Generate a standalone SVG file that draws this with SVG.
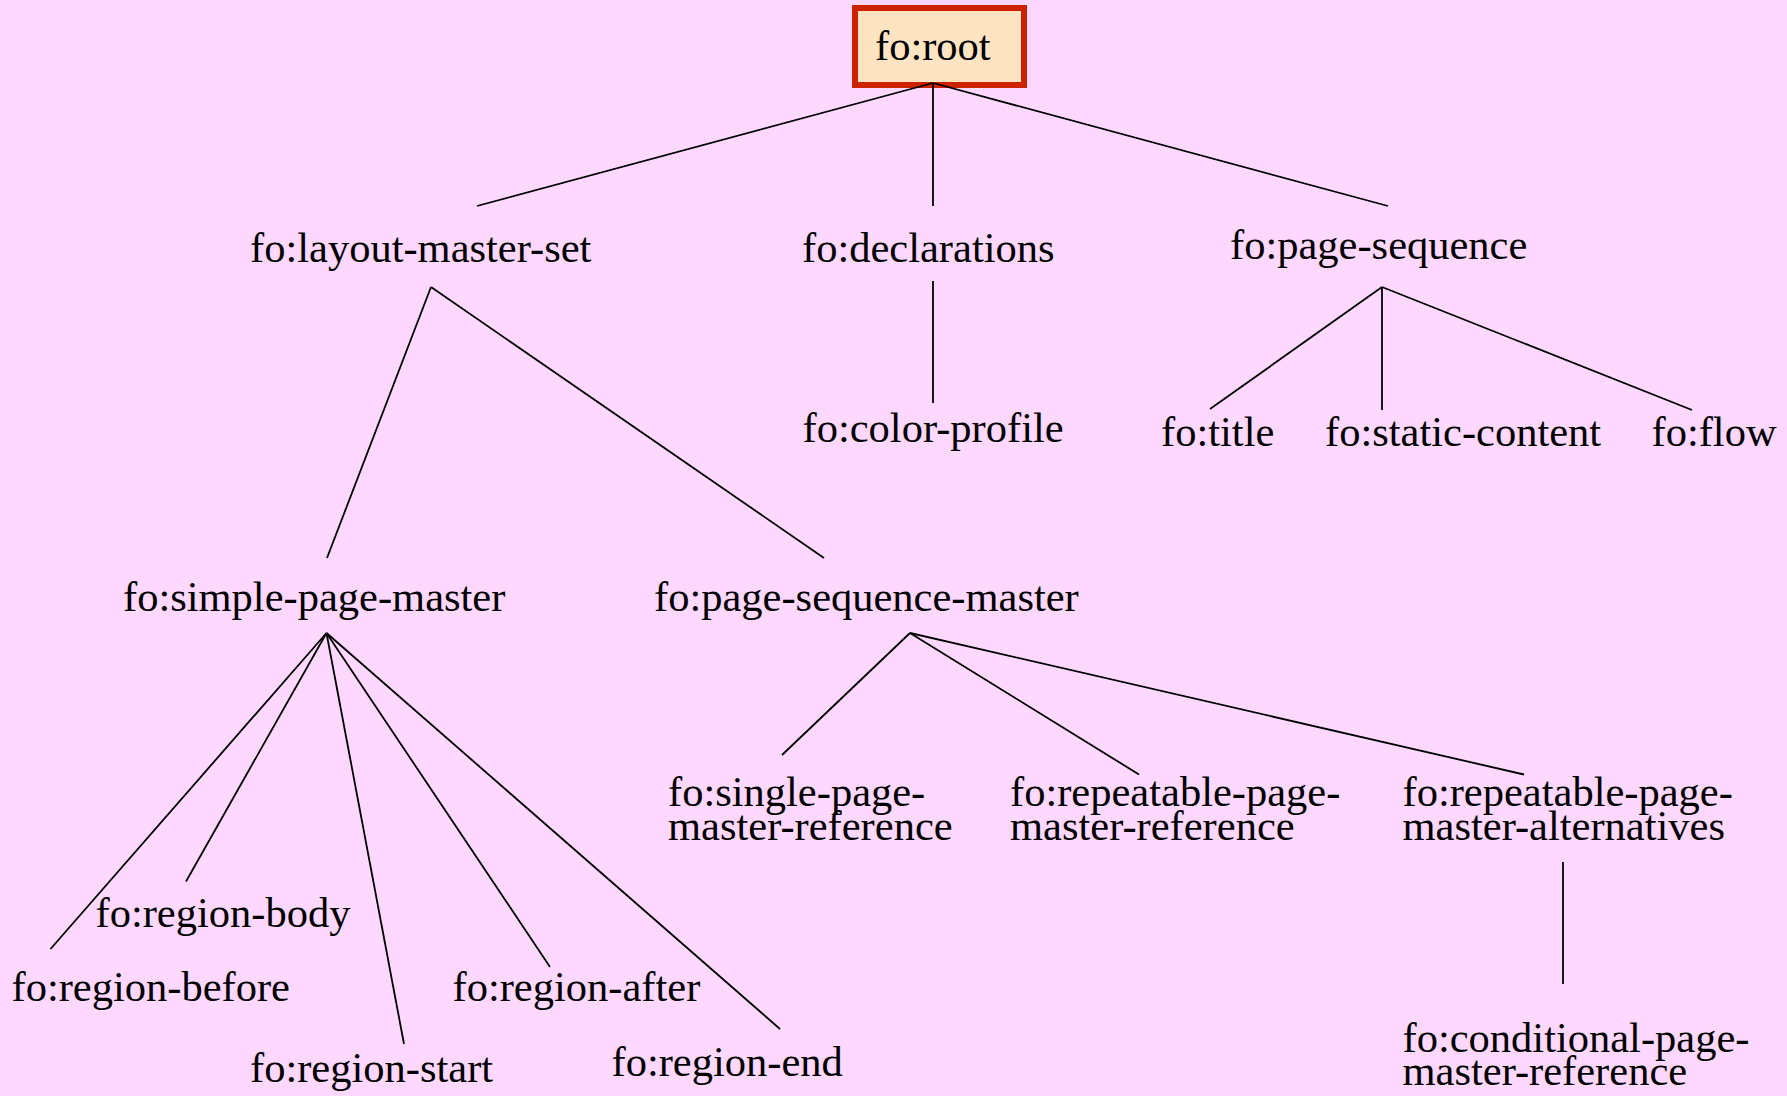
<svg xmlns="http://www.w3.org/2000/svg" width="1787" height="1096" viewBox="0 0 1787 1096">
  <style>
    .lbl { font-family: "Liberation Serif", "Times New Roman", serif; font-size: 42.5px; fill: #000; }
    .edge { stroke: #000; stroke-width: 1.8; fill: none; }
    .rootbox { fill: #ffe4c4; stroke: #cc2200; stroke-width: 6; }
  </style>
  <rect x="0" y="0" width="1787" height="1096" fill="#ffd8ff"/>

  <!-- nodes -->
  <g id="root">
    <rect class="rootbox" x="855" y="8" width="169" height="77"/>
    <text class="lbl" x="875" y="60">fo:root</text>
  </g>
  <g id="layout-master-set"><text class="lbl" x="250" y="262">fo:layout-master-set</text></g>
  <g id="declarations"><text class="lbl" x="802" y="262">fo:declarations</text></g>
  <g id="page-sequence"><text class="lbl" x="1230" y="259">fo:page-sequence</text></g>
  <g id="color-profile"><text class="lbl" x="802.5" y="442">fo:color-profile</text></g>
  <g id="title"><text class="lbl" x="1161" y="446">fo:title</text></g>
  <g id="static-content"><text class="lbl" x="1325" y="446">fo:static-content</text></g>
  <g id="flow"><text class="lbl" x="1651.5" y="446">fo:flow</text></g>
  <g id="simple-page-master"><text class="lbl" x="123" y="611">fo:simple-page-master</text></g>
  <g id="page-sequence-master"><text class="lbl" x="654" y="611">fo:page-sequence-master</text></g>
  <g id="single-page-master-reference">
    <text class="lbl" x="668" y="806">fo:single-page-</text>
    <text class="lbl" x="668" y="839.5">master-reference</text>
  </g>
  <g id="repeatable-page-master-reference">
    <text class="lbl" x="1010" y="806">fo:repeatable-page-</text>
    <text class="lbl" x="1010" y="839.5">master-reference</text>
  </g>
  <g id="repeatable-page-master-alternatives">
    <text class="lbl" x="1402.5" y="806">fo:repeatable-page-</text>
    <text class="lbl" x="1402.5" y="839.5">master-alternatives</text>
  </g>
  <g id="conditional-page-master-reference">
    <text class="lbl" x="1402.5" y="1052">fo:conditional-page-</text>
    <text class="lbl" x="1402.5" y="1085">master-reference</text>
  </g>
  <g id="region-body"><text class="lbl" x="95.5" y="927">fo:region-body</text></g>
  <g id="region-before"><text class="lbl" x="11.5" y="1001">fo:region-before</text></g>
  <g id="region-start"><text class="lbl" x="250" y="1082">fo:region-start</text></g>
  <g id="region-after"><text class="lbl" x="452.5" y="1001">fo:region-after</text></g>
  <g id="region-end"><text class="lbl" x="611.5" y="1076">fo:region-end</text></g>

  <!-- tree connectors, drawn over the root border where they meet it -->
  <g id="connectors">
    <line class="edge" x1="933" y1="83" x2="477" y2="206"/>
    <line class="edge" x1="933" y1="83" x2="933" y2="206"/>
    <line class="edge" x1="933" y1="83" x2="1388" y2="206"/>

    <line class="edge" x1="431" y1="287" x2="327" y2="558"/>
    <line class="edge" x1="431" y1="287" x2="824" y2="558"/>

    <line class="edge" x1="933" y1="281" x2="933" y2="403"/>

    <line class="edge" x1="1382" y1="287" x2="1210" y2="409"/>
    <line class="edge" x1="1382" y1="287" x2="1382" y2="410"/>
    <line class="edge" x1="1382" y1="287" x2="1692" y2="410"/>

    <line class="edge" x1="326.5" y1="633" x2="50.5" y2="949"/>
    <line class="edge" x1="326.5" y1="633" x2="186" y2="881.5"/>
    <line class="edge" x1="326.5" y1="633" x2="404" y2="1044"/>
    <line class="edge" x1="326.5" y1="633" x2="550" y2="967"/>
    <line class="edge" x1="326.5" y1="633" x2="780" y2="1029"/>

    <line class="edge" x1="910" y1="633" x2="782" y2="755"/>
    <line class="edge" x1="910" y1="633" x2="1139" y2="774.5"/>
    <line class="edge" x1="910" y1="633" x2="1524" y2="774.5"/>

    <line class="edge" x1="1563" y1="862" x2="1563" y2="984"/>
  </g>
</svg>
